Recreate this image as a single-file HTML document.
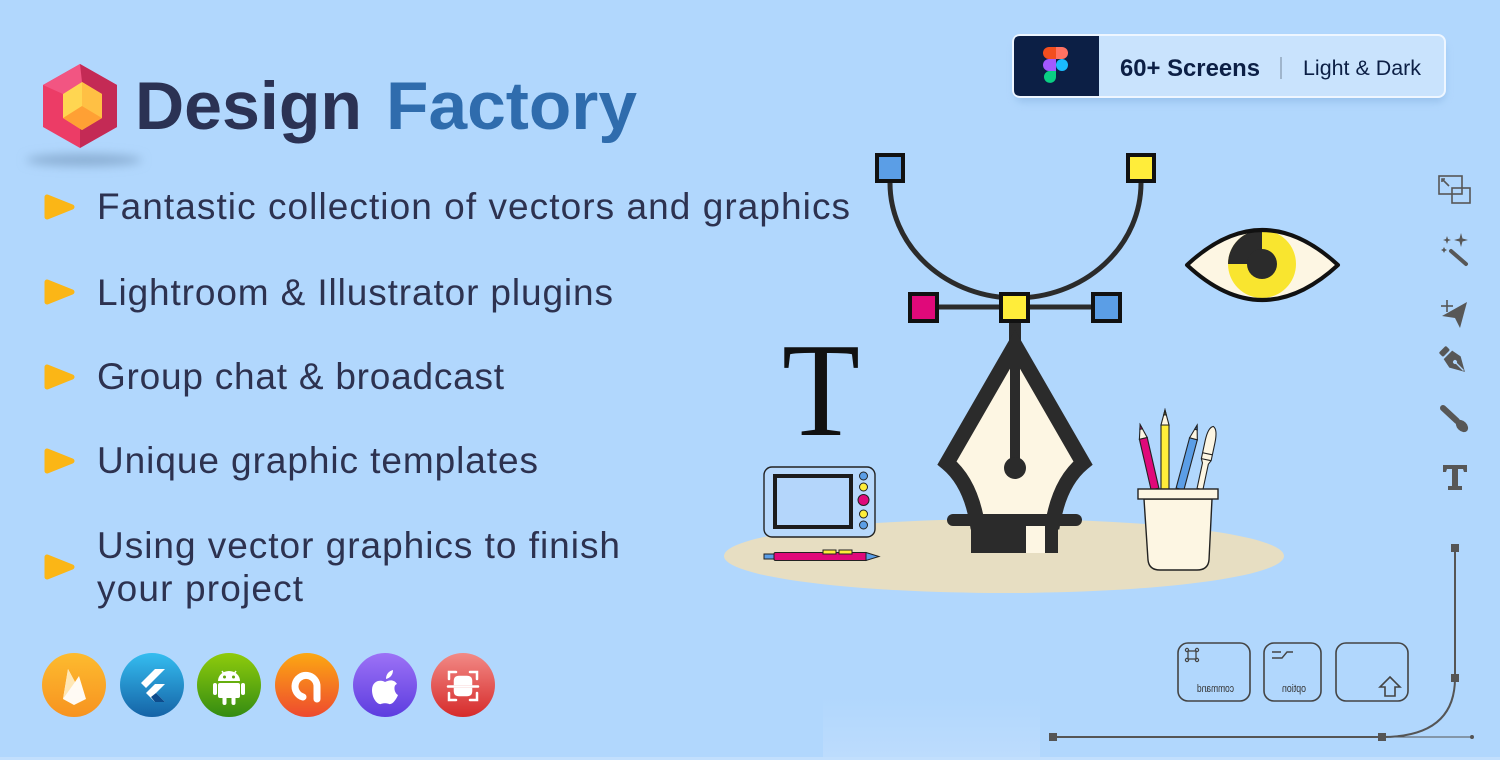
<!DOCTYPE html>
<html><head><meta charset="utf-8"><style>
html,body{margin:0;padding:0;background:#b1d7fd;}
svg{display:block;}
</style></head><body>
<svg width="1500" height="760" viewBox="0 0 1500 760" xmlns="http://www.w3.org/2000/svg" font-family="'Liberation Sans', sans-serif">
<defs>
<filter id="blur6" x="-50%" y="-200%" width="200%" height="500%"><feGaussianBlur stdDeviation="5"/></filter>
<filter id="sh" x="-10%" y="-50%" width="120%" height="200%"><feGaussianBlur stdDeviation="4"/></filter>
<linearGradient id="g1" x1="0" y1="0" x2="0" y2="1"><stop offset="0" stop-color="#fdbb2f"/><stop offset="1" stop-color="#f79320"/></linearGradient>
<linearGradient id="g2" x1="0" y1="0" x2="0" y2="1"><stop offset="0" stop-color="#35bdf0"/><stop offset="1" stop-color="#1563a6"/></linearGradient>
<linearGradient id="g3" x1="0" y1="0" x2="0" y2="1"><stop offset="0" stop-color="#8fcb0c"/><stop offset="1" stop-color="#348c12"/></linearGradient>
<linearGradient id="g4" x1="0" y1="0" x2="0" y2="1"><stop offset="0" stop-color="#fca812"/><stop offset="1" stop-color="#ee4a2f"/></linearGradient>
<linearGradient id="g5" x1="0" y1="0" x2="0" y2="1"><stop offset="0" stop-color="#9d72f6"/><stop offset="1" stop-color="#5d3ddf"/></linearGradient>
<linearGradient id="g6" x1="0" y1="0" x2="0" y2="1"><stop offset="0" stop-color="#f28a86"/><stop offset="1" stop-color="#d62b2b"/></linearGradient>
<linearGradient id="gb" x1="0" y1="0" x2="0" y2="1"><stop offset="0" stop-color="#b1d7fd"/><stop offset="1" stop-color="#bddcfd"/></linearGradient>
<clipPath id="eyeclip"><path d="M1187,265 Q1262,195 1338,265 Q1262,335 1187,265 Z"/></clipPath>
</defs>

<rect width="1500" height="760" fill="#b1d7fd"/>
<rect x="823" y="698" width="217" height="62" fill="url(#gb)"/>
<rect x="0" y="757" width="1500" height="3" fill="#c2dffd"/>

<!-- Logo -->
<ellipse cx="84" cy="160" rx="58" ry="6" fill="#8aaed3" filter="url(#blur6)"/>
<polygon points="80,64 117,85 117,127 80,148 43,127 43,85" fill="#ec3c66"/>
<polygon points="80,64 117,85 117,127 80,148" fill="#c42a55"/>
<polygon points="80,64 43,85 63,94 82,82" fill="#f25582"/>
<polygon points="82,82 102,94 102,118 82,130 63,118 63,94" fill="#ffd651"/>
<polygon points="82,82 102,94 102,118 82,106" fill="#ffc044"/>
<polygon points="63,118 82,106 102,118 82,130" fill="#ffa034"/>

<text x="135" y="129" font-size="68" font-weight="bold" fill="#2b3254" textLength="227" lengthAdjust="spacingAndGlyphs">Design</text>
<text x="386" y="129" font-size="68" font-weight="bold" fill="#2f6cad" textLength="251" lengthAdjust="spacingAndGlyphs">Factory</text>

<!-- Bullets -->
<g fill="#fbb616" stroke="#fbb616" stroke-width="5" stroke-linejoin="round">
<polygon points="47,197 72,207 47,217"/>
<polygon points="47,282 72,292 47,302"/>
<polygon points="47,367 72,377 47,387"/>
<polygon points="47,451 72,461 47,471"/>
<polygon points="47,557 72,567 47,577"/>
</g>
<g font-size="37" fill="#2d3250">
<text x="97" y="219" textLength="753" lengthAdjust="spacing">Fantastic collection of vectors and graphics</text>
<text x="97" y="305" textLength="516" lengthAdjust="spacing">Lightroom &amp; Illustrator plugins</text>
<text x="97" y="389" textLength="407" lengthAdjust="spacing">Group chat &amp; broadcast</text>
<text x="97" y="473" textLength="441" lengthAdjust="spacing">Unique graphic templates</text>
<text x="97" y="558" textLength="523" lengthAdjust="spacing">Using vector graphics to finish</text>
<text x="97" y="601" textLength="206" lengthAdjust="spacing">your project</text>
</g>

<!-- Bottom tech icons -->
<circle cx="74" cy="685" r="32" fill="url(#g1)"/>
<g transform="translate(74,686)" fill="#fff">
<path d="M-11,13 L-6,-17 L1,-4 L5,-10 L12,13 L0,19 Z" opacity="0.95"/>
<path d="M-11,13 L-6,-17 L1,-4 Z" fill="#ffe7b5"/>
</g>
<circle cx="152" cy="685" r="32" fill="url(#g2)"/>
<g transform="translate(152,686)">
<path d="M3,-17 L13,-17 L-6,2 L-11,-3 Z" fill="#fff"/>
<path d="M3,-2 L13,-2 L4,7 L13,16 L3,16 L-6,7 Z" fill="#fff"/>
<path d="M-1,11 L4,7 L13,16 L3,16 Z" fill="#0d4c8c"/>
</g>
<circle cx="229" cy="685" r="32" fill="url(#g3)"/>
<g transform="translate(229,686)" fill="#fff">
<path d="M-11,-5 A11,10 0 0 1 11,-5 Z"/>
<line x1="-7" y1="-15" x2="-5" y2="-12" stroke="#fff" stroke-width="1.5"/>
<line x1="7" y1="-15" x2="5" y2="-12" stroke="#fff" stroke-width="1.5"/>
<circle cx="-4.5" cy="-9" r="1.5" fill="#62a60e"/>
<circle cx="4.5" cy="-9" r="1.5" fill="#62a60e"/>
<rect x="-11" y="-3" width="22" height="15" rx="2"/>
<rect x="-16" y="-3" width="4" height="12" rx="2"/>
<rect x="12" y="-3" width="4" height="12" rx="2"/>
<rect x="-6.5" y="10" width="4" height="9" rx="2"/>
<rect x="2.5" y="10" width="4" height="9" rx="2"/>
</g>
<circle cx="307" cy="685" r="32" fill="url(#g4)"/>
<g transform="translate(307,686)" fill="none" stroke="#fff" stroke-width="7" stroke-linecap="round">
<path d="M-4,11 A11,11 0 1 1 10,1 L10,13"/>
</g>
<circle cx="385" cy="685" r="32" fill="url(#g5)"/>
<g transform="translate(385,688)" fill="#fff">
<path d="M0,-6 C-5,-9 -13,-7 -13,2 C-13,11 -7,17 -4,16 C-2,15 2,15 4,16 C7,17 11,12 13,7 C9,5 8,-3 12,-4 C9,-9 4,-8 0,-6 Z"/>
<path d="M1,-9 C1,-14 4,-17 8,-18 C8,-13 5,-10 1,-9 Z"/>
</g>
<circle cx="463" cy="685" r="32" fill="url(#g6)"/>
<g transform="translate(463,686)" fill="none" stroke="#fff" stroke-width="2.5" stroke-linecap="round">
<path d="M-14,-7 L-14,-14 L-7,-14 M7,-14 L14,-14 L14,-7 M14,7 L14,14 L7,14 M-7,14 L-14,14 L-14,7"/>
<path d="M-8,-2 L-8,-5 Q-8,-9 -4,-9 L4,-9 Q8,-9 8,-5 L8,-2 Z" fill="#fff"/>
<path d="M-8,3 L-8,5 Q-8,9 -4,9 L4,9 Q8,9 8,5 L8,3 Z" fill="#fff"/>
<line x1="-15" y1="0.5" x2="15" y2="0.5"/>
</g>

<!-- Badge -->
<rect x="1015" y="42" width="430" height="60" rx="8" fill="#8fb9e6" filter="url(#sh)" opacity="0.7"/>
<rect x="1013" y="35" width="432" height="62" rx="7" fill="#c9e3fd" stroke="#eef6ff" stroke-width="2"/>
<path d="M1020,36 L1099,36 L1099,96 L1020,96 Q1014,96 1014,90 L1014,42 Q1014,36 1020,36 Z" fill="#0c1f45"/>
<g>
<path d="M1049,47 L1056,47 L1056,59 L1049,59 A6,6 0 0 1 1049,47 Z" fill="#f24e1e"/>
<path d="M1056,47 L1062,47 A6,6 0 0 1 1062,59 L1056,59 Z" fill="#ff7262"/>
<path d="M1049,59 L1056,59 L1056,71 L1049,71 A6,6 0 0 1 1049,59 Z" fill="#a259ff"/>
<circle cx="1062" cy="65" r="6" fill="#1abcfe"/>
<path d="M1049,71 L1056,71 L1056,77 A6,6 0 1 1 1049,71 Z" fill="#0acf83"/>
</g>
<text x="1120" y="76" font-size="24" font-weight="bold" fill="#0c1f45" textLength="140" lengthAdjust="spacingAndGlyphs">60+ Screens</text>
<line x1="1281" y1="57" x2="1281" y2="79" stroke="#9fb5cc" stroke-width="2"/>
<text x="1303" y="75" font-size="21" fill="#0c1f45" textLength="118" lengthAdjust="spacingAndGlyphs">Light &amp; Dark</text>

<!-- Right toolbar -->
<g stroke="#575757" fill="none" stroke-width="1.6">
<rect x="1439" y="176" width="23" height="18"/>
<rect x="1452" y="188" width="18" height="15"/>
<line x1="1443" y1="180" x2="1449" y2="186"/>
<path d="M1442,182 L1442,179 L1445,179" />
</g>
<g fill="#575757" stroke="#575757">
<line x1="1451" y1="251" x2="1466" y2="264" stroke-width="4" stroke-linecap="round"/>
<path d="M1461,233 L1462.5,238.5 L1468,240 L1462.5,241.5 L1461,247 L1459.5,241.5 L1454,240 L1459.5,238.5 Z" stroke="none"/>
<path d="M1447,236 L1448,239 L1451,240 L1448,241 L1447,244 L1446,241 L1443,240 L1446,239 Z" stroke="none"/>
<path d="M1444,247 L1445,249 L1447,250 L1445,251 L1444,253 L1443,251 L1441,250 L1443,249 Z" stroke="none"/>
<path d="M1467,302 L1442,316 L1455,318 L1460,328 Z" stroke="none"/>
<line x1="1441" y1="306" x2="1453" y2="306" stroke-width="1.6"/>
<line x1="1447" y1="300" x2="1447" y2="312" stroke-width="1.6"/>
<g transform="translate(1455,362) rotate(-45)" stroke="none">
<rect x="-5" y="-18" width="10" height="6" rx="1.5"/>
<path d="M-6,-10 L6,-10 L8,0 L0,14 L-8,0 Z"/>
<circle cx="0" cy="0" r="2" fill="#b1d7fd"/>
<rect x="-0.7" y="0" width="1.4" height="12" fill="#b1d7fd"/>
</g>
<line x1="1443" y1="408" x2="1457" y2="421" stroke-width="6" stroke-linecap="round"/>
<ellipse cx="1462" cy="426" rx="5" ry="7" transform="rotate(-45 1462 426)" stroke="none"/>
<path d="M1443,465 L1467,465 L1467,472 L1464,472 L1463,469 L1458,469 L1458,486 L1462,486 L1462,490 L1448,490 L1448,486 L1452,486 L1452,469 L1447,469 L1446,472 L1443,472 Z" stroke="none"/>
</g>

<!-- Bottom-right path & keys -->
<g stroke="#555" fill="none" stroke-width="2">
<line x1="1455" y1="548" x2="1455" y2="678"/>
<path d="M1455,678 Q1455,737 1382,737"/>
<line x1="1053" y1="737" x2="1382" y2="737"/>
<line x1="1382" y1="737" x2="1471" y2="737" stroke-width="1"/>
</g>
<g fill="#555">
<rect x="1451" y="544" width="8" height="8"/>
<rect x="1451" y="674" width="8" height="8"/>
<rect x="1378" y="733" width="8" height="8"/>
<rect x="1049" y="733" width="8" height="8"/>
<circle cx="1472" cy="737" r="2"/>
</g>
<g stroke="#444" fill="none" stroke-width="1.6">
<rect x="1178" y="643" width="72" height="58" rx="10"/>
<rect x="1264" y="643" width="57" height="58" rx="10"/>
<rect x="1336" y="643" width="72" height="58" rx="10"/>
<rect x="1188" y="651" width="8" height="8" stroke-width="1.3"/>
<circle cx="1187" cy="650" r="1.6" stroke-width="1.2"/>
<circle cx="1197" cy="650" r="1.6" stroke-width="1.2"/>
<circle cx="1187" cy="660" r="1.6" stroke-width="1.2"/>
<circle cx="1197" cy="660" r="1.6" stroke-width="1.2"/>
<path d="M1272,652 L1281,652 M1272,658 L1282,658 L1287,652 L1293,652" stroke-width="1.4"/>
<path d="M1390,677 L1400,687 L1395,687 L1395,696 L1385,696 L1385,687 L1380,687 Z"/>
</g>
<g fill="#333" font-size="11" font-family="'Liberation Sans Narrow','Liberation Sans',sans-serif">
<text transform="translate(1234,692) scale(-1,1)" textLength="37" lengthAdjust="spacingAndGlyphs">command</text>
<text transform="translate(1306,692) scale(-1,1)" textLength="24" lengthAdjust="spacingAndGlyphs">option</text>
</g>

<!-- Desk ellipse -->
<ellipse cx="1004" cy="556" rx="280" ry="37" fill="#e7dec2"/>

<!-- Big T -->
<text x="782" y="435" font-family="'Liberation Serif', serif" font-size="134" fill="#111" textLength="78" lengthAdjust="spacingAndGlyphs">T</text>

<!-- Bezier arc and handles -->
<g stroke="#2b2b2b" fill="none" stroke-width="5">
<path d="M890,183 A125.5,115 0 0 0 1141,183"/>
<line x1="925" y1="307" x2="1105" y2="307"/>
</g>
<g stroke="#111" stroke-width="4">
<rect x="877" y="155" width="26" height="26" fill="#5b9ee6"/>
<rect x="1128" y="155" width="26" height="26" fill="#ffed3a"/>
<rect x="910" y="294" width="27" height="27" fill="#e0097a"/>
<rect x="1001" y="294" width="27" height="27" fill="#ffed3a"/>
<rect x="1093" y="294" width="27" height="27" fill="#5b9ee6"/>
</g>

<!-- Pen nib -->
<rect x="1009" y="323" width="12" height="18" fill="#2b2b2b"/>
<path d="M977,522 Q970,482 947,463 L1015,345 L1083,463 Q1060,482 1053,522 Z" fill="#fdf6e3" stroke="#2b2b2b" stroke-width="15" stroke-linejoin="miter" stroke-miterlimit="10"/>
<line x1="1015" y1="340" x2="1015" y2="468" stroke="#2b2b2b" stroke-width="10"/>
<circle cx="1015" cy="468" r="11" fill="#2b2b2b"/>
<line x1="953" y1="520" x2="1076" y2="520" stroke="#2b2b2b" stroke-width="12" stroke-linecap="round"/>
<rect x="971" y="520" width="87" height="33" fill="#2b2b2b"/>
<rect x="1026" y="526" width="19" height="27" fill="#fdf6e3"/>

<!-- Tablet -->
<rect x="764" y="467" width="111" height="70" rx="8" fill="#b8d9fc" stroke="#222" stroke-width="1.4"/>
<rect x="775" y="476" width="76" height="51" fill="#b4d6fb" stroke="#1c1c1c" stroke-width="4"/>
<g stroke="#222" stroke-width="1">
<circle cx="863.5" cy="476" r="4" fill="#5b9ee6"/>
<circle cx="863.5" cy="487" r="4" fill="#ffed3a"/>
<circle cx="863.5" cy="500" r="5.5" fill="#e0097a"/>
<circle cx="863.5" cy="514" r="4" fill="#ffed3a"/>
<circle cx="863.5" cy="525" r="4" fill="#5b9ee6"/>
</g>
<!-- Stylus -->
<g stroke="#222" stroke-width="1">
<rect x="764" y="554" width="11" height="5" fill="#5b9ee6"/>
<rect x="774" y="552.5" width="93" height="8" rx="1.5" fill="#e0097a"/>
<path d="M866,552.5 L879,556.5 L866,560.5 Z" fill="#5b9ee6"/>
<rect x="823" y="550" width="13" height="4" fill="#ffed3a"/>
<rect x="839" y="550" width="13" height="4" fill="#ffed3a"/>
</g>

<!-- Pencils -->
<g stroke="#222" stroke-width="1.1">
<g transform="translate(1155,489) rotate(-13)">
<rect x="-4" y="-52" width="8" height="52" fill="#e0097a"/>
<path d="M-4,-52 L4,-52 L0,-66 Z" fill="#fdf6e3"/>
<path d="M-1.3,-61.5 L1.3,-61.5 L0,-66 Z" fill="#e0097a"/>
</g>
<g transform="translate(1165,489)">
<rect x="-4" y="-64" width="8" height="64" fill="#ffed3a"/>
<path d="M-4,-64 L4,-64 L0,-79 Z" fill="#fdf6e3"/>
<path d="M-1.3,-74 L1.3,-74 L0,-79 Z" fill="#6d6a2a"/>
</g>
<g transform="translate(1180,489) rotate(15)">
<rect x="-4" y="-52" width="8" height="52" fill="#5b9ee6"/>
<path d="M-4,-52 L4,-52 L0,-66 Z" fill="#fdf6e3"/>
<path d="M-1.3,-61.5 L1.3,-61.5 L0,-66 Z" fill="#3b6fb0"/>
</g>
<g transform="translate(1200,489) rotate(12)">
<path d="M-3,0 L-3,-26 L-5,-30 L-5,-48 Q-5,-62 0,-64 Q5,-62 5,-48 L5,-30 L3,-26 L3,0 Z" fill="#fdf6e3"/>
<line x1="-5" y1="-30" x2="5" y2="-30"/>
<line x1="-5" y1="-36" x2="5" y2="-36"/>
</g>
</g>
<!-- Cup -->
<path d="M1144,499 L1148,560 Q1149,570 1160,570 L1197,570 Q1208,570 1209,560 L1212,499 Z" fill="#fdf6e3" stroke="#222" stroke-width="1.4"/>
<rect x="1138" y="489" width="80" height="10" fill="#fdf6e3" stroke="#222" stroke-width="1.4"/>

<!-- Eye -->
<path d="M1187,265 Q1262,195 1338,265 Q1262,335 1187,265 Z" fill="#fdf6e3"/>
<g clip-path="url(#eyeclip)">
<circle cx="1262" cy="264" r="34" fill="#f9e52f"/>
<path d="M1262,264 L1228,264 A34,34 0 0 1 1262,230 Z" fill="#2b2b2b"/>
<circle cx="1262" cy="264" r="15" fill="#2b2b2b"/>
</g>
<path d="M1187,265 Q1262,195 1338,265 Q1262,335 1187,265 Z" fill="none" stroke="#111" stroke-width="4" stroke-linejoin="round"/>
</svg>
</body></html>
